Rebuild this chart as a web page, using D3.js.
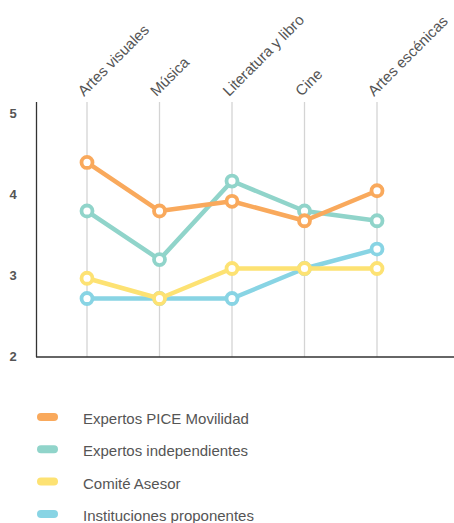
<!doctype html>
<html lang="es">
<head>
	<meta charset="UTF-8">
	<title>Valoraciones por sector</title>
	<style>
		body { margin: 0; background: #fff; font-family: "Liberation Sans", Arial, sans-serif; }
		.tick-y { font-size: 13px; font-weight: bold; fill: #555; }
		.cat-label { font-size: 15px; fill: #555; }
		.legend-label { font-size: 15px; fill: #555; }
	</style>
</head>
<body>
	<script src="https://cdn.jsdelivr.net/npm/d3@7"></script>
	<script>
		var categories = ['Artes visuales', 'Música', 'Literatura y libro', 'Cine', 'Artes escénicas'];
		var seriesNames = ['Expertos PICE Movilidad', 'Expertos independientes', 'Comité Asesor', 'Instituciones proponentes'];
		var seriesColors = ['#f9a95c', '#90d4ca', '#fde273', '#88d4e4'];
		var piceValues = [4.39, 3.79, 3.91, 3.67, 4.04];
		var independientesValues = [3.79, 3.19, 4.16, 3.79, 3.67];
		var comiteValues = [2.96, 2.71, 3.08, 3.08, 3.08];
		var institucionesValues = [2.71, 2.71, 2.71, 3.08, 3.32];
		var yTicks = [2, 3, 4, 5];

		var w = 454,
			h = 523;

		var svg = d3.select('body').append('svg')
			.attr('width', w)
			.attr('height', h);

		var allSeries = [piceValues, independientesValues, comiteValues, institucionesValues];

		// draw the later series first so orange ends up on top
		var drawOrder = [3, 2, 1, 0];

		var xScale = d3.scalePoint()
			.domain(categories)
			.range([87, 377]);

		var yScale = d3.scaleLinear()
			.domain([2, 5])
			.range([356, 113]);

		// vertical grid lines
		svg.selectAll('.grid')
			.data(categories)
			.enter()
			.append('line')
			.attr('x1', function(d) { return xScale(d); })
			.attr('x2', function(d) { return xScale(d); })
			.attr('y1', 102)
			.attr('y2', 357)
			.attr('stroke', '#d4d4d4')
			.attr('stroke-width', 1.3);

		// axes lines
		svg.append('line')
			.attr('x1', 36.5).attr('x2', 36.5)
			.attr('y1', 102).attr('y2', 357)
			.attr('stroke', '#333').attr('stroke-width', 1.3);
		svg.append('line')
			.attr('x1', 36).attr('x2', 454)
			.attr('y1', 357).attr('y2', 357)
			.attr('stroke', '#333').attr('stroke-width', 1.3);

		// y labels
		svg.selectAll('.tick-y')
			.data(yTicks)
			.enter()
			.append('text')
			.attr('class', 'tick-y')
			.attr('x', 13)
			.attr('y', function(d) { return yScale(d); })
			.attr('dy', '0.35em')
			.attr('text-anchor', 'middle')
			.text(function(d) { return d; });

		// category labels, rotated
		svg.selectAll('.cat-label')
			.data(categories)
			.enter()
			.append('text')
			.attr('class', 'cat-label')
			.attr('transform', function(d) {
				return 'translate(' + (xScale(d) - 3) + ',97) rotate(-45)';
			})
			.text(function(d) { return d; });

		var line = d3.line()
			.x(function(d, i) { return xScale(categories[i]); })
			.y(function(d) { return yScale(d); });

		drawOrder.forEach(function(s) {
			var g = svg.append('g');
			g.append('path')
				.datum(allSeries[s])
				.attr('d', line)
				.attr('fill', 'none')
				.attr('stroke', seriesColors[s])
				.attr('stroke-width', 4.5)
				.attr('stroke-linejoin', 'round');
			g.selectAll('circle')
				.data(allSeries[s])
				.enter()
				.append('circle')
				.attr('cx', function(d, i) { return xScale(categories[i]); })
				.attr('cy', function(d) { return yScale(d); })
				.attr('r', 5.5)
				.attr('fill', '#fff')
				.attr('stroke', seriesColors[s])
				.attr('stroke-width', 3.8);
		});

		// legend
		var legend = svg.selectAll('.legend')
			.data(seriesNames)
			.enter()
			.append('g')
			.attr('transform', function(d, i) {
				return 'translate(0,' + (417 + i * 32.3) + ')';
			});
		legend.append('rect')
			.attr('x', 37)
			.attr('y', -4)
			.attr('width', 21)
			.attr('height', 8)
			.attr('rx', 4)
			.attr('fill', function(d, i) { return seriesColors[i]; });
		legend.append('text')
			.attr('class', 'legend-label')
			.attr('x', 83)
			.attr('y', 7)
			.text(function(d) { return d; });
	</script>
</body>
</html>
